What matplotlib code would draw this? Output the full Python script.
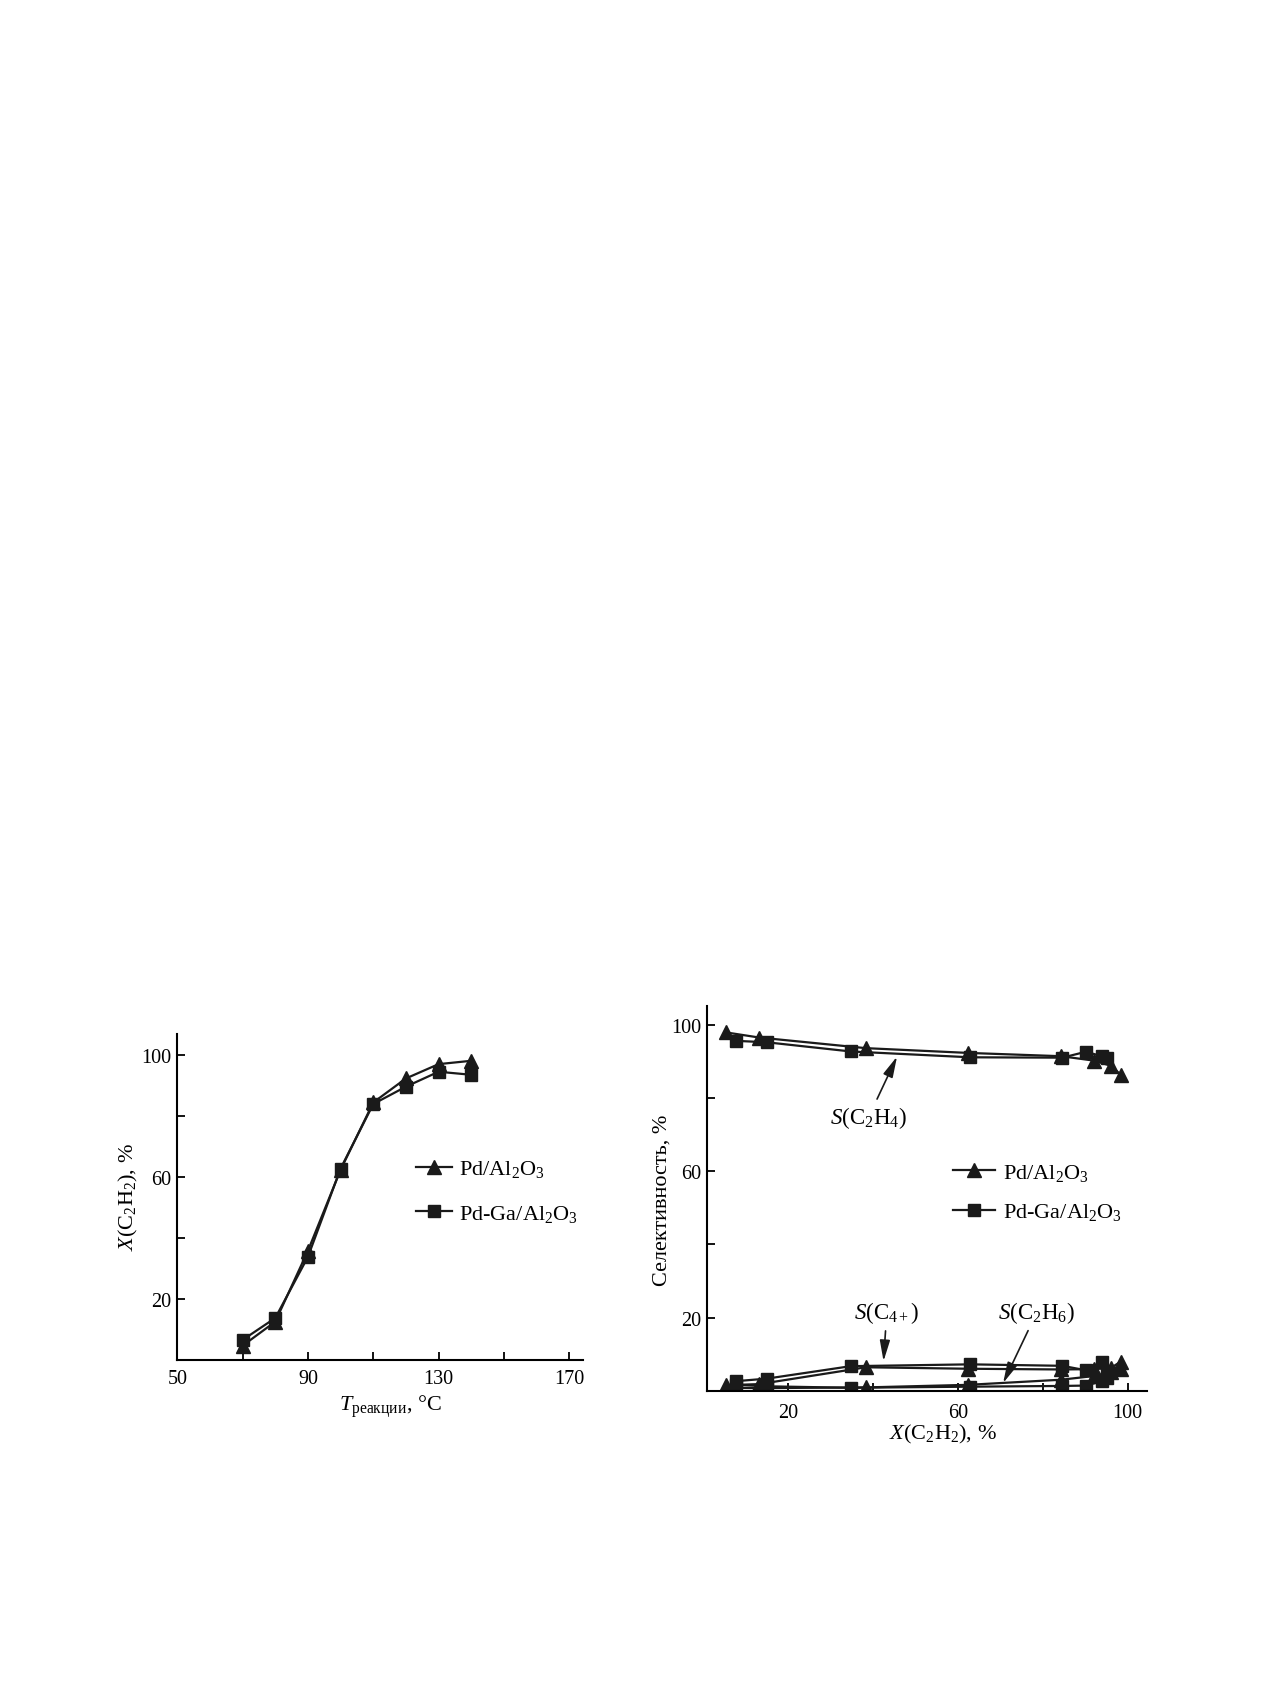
import matplotlib
matplotlib.use("Agg")
import matplotlib.pyplot as plt

plt.rcParams['font.family'] = ['Liberation Serif', 'DejaVu Serif']
plt.rcParams['mathtext.fontset'] = 'custom'
plt.rcParams['mathtext.rm'] = 'Liberation Serif'
plt.rcParams['mathtext.it'] = 'Liberation Serif:italic'
plt.rcParams['mathtext.bf'] = 'Liberation Serif:bold'

# ---- left panel data: conversion vs temperature ----
temp = [70, 80, 90, 100, 110, 120, 130, 140]
conv_pd = [4.6, 12.5, 35.8, 62.4, 84.5, 92.4, 97.1, 98.2]
conv_pdga = [6.5, 13.7, 33.8, 62.8, 84.0, 89.7, 94.6, 93.6]

# ---- right panel data: selectivity vs conversion ----
x_pd = [5.5, 13.3, 38.4, 62.4, 84.3, 92.0, 96.0, 98.3]
s_c2h4_pd = [97.9, 96.5, 93.6, 92.3, 91.4, 90.2, 88.8, 86.4]
s_c4_pd = [1.5, 1.8, 6.4, 6.0, 5.8, 5.9, 6.2, 7.9]
s_c2h6_pd = [0.8, 0.7, 0.9, 1.6, 3.0, 4.0, 5.0, 5.8]

x_pdga = [7.8, 15.1, 34.8, 63.0, 84.6, 90.1, 94.0, 95.2]
s_c2h4_pdga = [95.6, 95.2, 92.7, 91.1, 91.0, 92.6, 91.4, 90.9]
s_c4_pdga = [2.6, 3.3, 6.7, 7.2, 6.8, 5.6, 7.9, 5.0]
s_c2h6_pdga = [1.6, 1.2, 0.8, 1.1, 1.3, 1.4, 2.6, 3.5]

label_pd = r'Pd/Al$_2$O$_3$'
label_pdga = r'Pd-Ga/Al$_2$O$_3$'

W, H = 1270, 1683
fig = plt.figure(figsize=(W / 100, H / 100), dpi=100)

def px_axes(x0, y0, x1, y1):
    return fig.add_axes([x0 / W, 1 - y1 / H, (x1 - x0) / W, (y1 - y0) / H])

LW = 1.6
MS = 9.5
TICKFS = 14.5
LABFS = 16
c = '#1a1a1a'

def style(ax):
    for s in ('top', 'right'):
        ax.spines[s].set_visible(False)
    for s in ('left', 'bottom'):
        ax.spines[s].set_linewidth(1.5)
    ax.tick_params(which='both', direction='in', length=6, width=1.3,
                   labelsize=TICKFS, colors='black')

# ---------------- left ----------------
ax1 = px_axes(177.3, 1035, 583.3, 1360.7)
style(ax1)
ax1.plot(temp, conv_pd, '-^', color=c, lw=LW, ms=MS, label=label_pd)
ax1.plot(temp, conv_pdga, '-s', color=c, lw=LW, ms=MS - 0.5, label=label_pdga)
ax1.set_xlim(50, 174.3)
ax1.set_ylim(0, 107)
ax1.set_xticks([50, 90, 130, 170])
ax1.set_xticks([70, 110, 150], minor=True)
ax1.set_yticks([20, 60, 100])
ax1.set_yticks([40, 80], minor=True)
ax1.tick_params(axis='x', pad=7)
ax1.tick_params(axis='y', pad=4)
ax1.set_xlabel(r'$\mathit{T}_{\mathrm{реакции}}$, °C', fontsize=LABFS)
ax1.xaxis.set_label_coords(0.524, -0.141)
ax1.xaxis.label.set_verticalalignment('center')
ax1.set_ylabel(r'$\mathit{X}$(C$_2$H$_2$), %', fontsize=LABFS)
ax1.yaxis.set_label_coords(-0.121, 0.503)
ax1.yaxis.label.set_verticalalignment('center')
ax1.legend(loc='center left', bbox_to_anchor=(0.588, 0.518), frameon=False,
           fontsize=LABFS, handlelength=1.6, handletextpad=0.35,
           borderpad=0, borderaxespad=0, labelspacing=1.05)

# ---------------- right ----------------
ax2 = px_axes(706.7, 1006.7, 1147.3, 1391.7)
style(ax2)
ax2.plot(x_pd, s_c2h4_pd, '-^', color=c, lw=LW, ms=MS, label=label_pd)
ax2.plot(x_pdga, s_c2h4_pdga, '-s', color=c, lw=LW, ms=MS - 0.5, label=label_pdga)
ax2.plot(x_pd, s_c4_pd, '-^', color=c, lw=LW, ms=MS)
ax2.plot(x_pdga, s_c4_pdga, '-s', color=c, lw=LW, ms=MS - 0.5)
ax2.plot(x_pd, s_c2h6_pd, '-^', color=c, lw=LW, ms=MS)
ax2.plot(x_pdga, s_c2h6_pdga, '-s', color=c, lw=LW, ms=MS - 0.5)
ax2.set_xlim(0.94, 104.6)
ax2.set_ylim(0, 105.2)
ax2.set_xticks([20, 60, 100])
ax2.set_xticks([40, 80], minor=True)
ax2.set_yticks([20, 60, 100])
ax2.set_yticks([40, 80], minor=True)
ax2.tick_params(axis='x', pad=9)
ax2.tick_params(axis='y', pad=4)
ax2.set_xlabel(r'$\mathit{X}$(C$_2$H$_2$), %', fontsize=LABFS)
ax2.xaxis.set_label_coords(0.537, -0.112)
ax2.xaxis.label.set_verticalalignment('center')
ax2.set_ylabel('Селективность, %', fontsize=LABFS)
ax2.yaxis.set_label_coords(-0.102, 0.498)
ax2.yaxis.label.set_verticalalignment('center')
ax2.legend(loc='center left', bbox_to_anchor=(0.558, 0.516), frameon=False,
           fontsize=LABFS, handlelength=1.9, handletextpad=0.35,
           borderpad=0, borderaxespad=0, labelspacing=0.85)

arrow = dict(arrowstyle='-|>,head_length=0.9,head_width=0.22', color=c, lw=1.2,
             mutation_scale=14)
AFS = 16.5
ax2.annotate(r'$\mathit{S}$(C$_2$H$_4$)', xy=(46.0, 92.0), xytext=(39.0, 74.7),
             ha='center', va='center', fontsize=AFS, arrowprops=arrow)
ax2.annotate(r'$\mathit{S}$(C$_{4+}$)', xy=(42.5, 7.3), xytext=(43.3, 21.4),
             ha='center', va='center', fontsize=AFS, arrowprops=arrow)
ax2.annotate(r'$\mathit{S}$(C$_2$H$_6$)', xy=(70.4, 1.4), xytext=(78.6, 21.4),
             ha='center', va='center', fontsize=AFS, arrowprops=arrow)

fig.savefig('out.png', dpi=100)
